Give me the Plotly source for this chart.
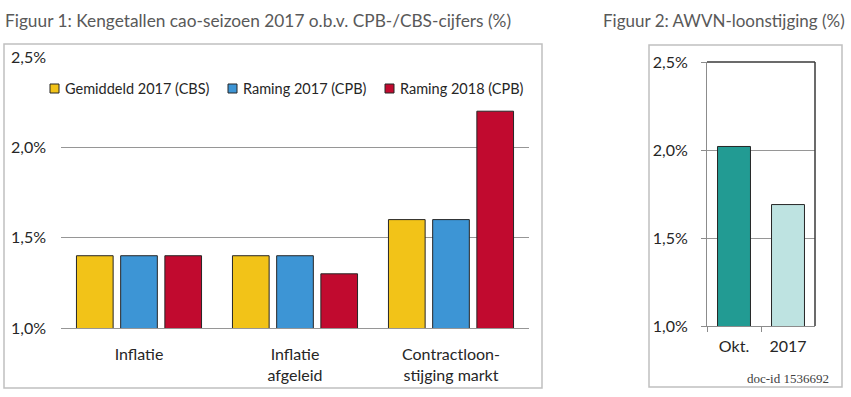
import plotly.graph_objects as go

# ---------------- data ----------------
categories = ["Inflatie", "Inflatie<br>afgeleid", "Contractloon-<br>stijging markt"]
gemiddeld_2017_cbs = [1.4, 1.4, 1.6]
raming_2017_cpb = [1.4, 1.4, 1.6]
raming_2018_cpb = [1.4, 1.3, 2.2]
series_names = ["Gemiddeld 2017 (CBS)", "Raming 2017 (CPB)", "Raming 2018 (CPB)"]
series_values = [gemiddeld_2017_cbs, raming_2017_cpb, raming_2018_cpb]
series_colors = ["#F2C318", "#3D95D5", "#C10A2F"]

awvn_categories = ["Okt.", "2017"]
awvn_values = [2.02, 1.69]
awvn_colors = ["#229B93", "#BEE3E1"]

tick_vals = [1.0, 1.5, 2.0, 2.5]
tick_text = ["1,0%", "1,5%", "2,0%", "2,5%"]

title_1 = "Figuur 1: Kengetallen cao-seizoen 2017 o.b.v. CPB-/CBS-cijfers (%)"
title_2 = "Figuur 2: AWVN-loonstijging (%)"
doc_id = "doc-id 1536692"

# ---------------- layout helpers ----------------
W, H = 851, 397
def px(x):
    return x / W
def py(y):
    return 1 - y / H

FONT = "Lato"
TEXT = "#262626"
GRID = "#969696"
BORDER = "#C0C0C0"
FS = 16

fig = go.Figure()

for name, vals, col in zip(series_names, series_values, series_colors):
    fig.add_trace(go.Bar(
        x=categories, y=vals, name=name, showlegend=False,
        marker=dict(color=col, line=dict(color="#262626", width=1)),
        xaxis="x", yaxis="y",
    ))

fig.add_trace(go.Bar(
    x=awvn_categories, y=awvn_values, width=0.61, showlegend=False,
    marker=dict(color=awvn_colors, line=dict(color="#262626", width=1)),
    xaxis="x2", yaxis="y2",
))

# legend drawn as swatches + labels (Excel-style compact legend)
legend_left = [50, 228, 385]
legend_y = 88.5
shapes = []
annotations = []
for lx, name, col in zip(legend_left, series_names, series_colors):
    shapes.append(dict(type="rect", xref="paper", yref="paper",
                       x0=px(lx), x1=px(lx + 9), y0=py(legend_y + 4.5), y1=py(legend_y - 4.5),
                       fillcolor=col, line=dict(color="#262626", width=1)))
    annotations.append(dict(text=name, xref="paper", yref="paper", x=px(lx + 13),
                            y=py(legend_y), xanchor="left", yanchor="middle",
                            showarrow=False, font=dict(size=14.5, color=TEXT)))

shapes += [
    dict(type="rect", xref="paper", yref="paper", x0=px(4), x1=px(542),
         y0=py(388), y1=py(44), line=dict(color=BORDER, width=1.5)),
    dict(type="rect", xref="paper", yref="paper", x0=px(649), x1=px(842),
         y0=py(387), y1=py(45), line=dict(color=BORDER, width=1.5)),
    dict(type="line", xref="x2 domain", yref="y2 domain", x0=0, x1=1, y0=1, y1=1,
         line=dict(color="#3A3A3A", width=1.5)),
    dict(type="line", xref="x2 domain", yref="y2 domain", x0=1, x1=1, y0=0, y1=1,
         line=dict(color="#3A3A3A", width=1.5)),
]

annotations += [
    dict(text=title_1, xref="paper", yref="paper", x=px(3), y=py(20),
         xanchor="left", yanchor="middle", showarrow=False,
         font=dict(size=17.3, color="#595959")),
    dict(text=title_2, xref="paper", yref="paper", x=px(601), y=py(20),
         xanchor="left", yanchor="middle", showarrow=False,
         font=dict(size=17, color="#595959")),
    dict(text=doc_id, xref="paper", yref="paper", x=px(831), y=py(378),
         xanchor="right", yanchor="middle", showarrow=False,
         font=dict(family="Liberation Serif", size=13, color="#404040")),
]

fig.update_layout(
    width=W, height=H,
    margin=dict(l=0, r=0, t=0, b=0, autoexpand=False),
    paper_bgcolor="white", plot_bgcolor="white",
    font=dict(family=FONT, size=FS, color=TEXT),
    barmode="group", bargap=0.15, bargroupgap=0.17,
    showlegend=False,
    xaxis=dict(domain=[px(61), px(529)], anchor="y", showline=True, linecolor=GRID,
               linewidth=1, ticks="", showgrid=False, ticklabelstandoff=12,
               automargin=False, tickfont=dict(size=FS, color=TEXT)),
    yaxis=dict(domain=[py(328), py(57)], anchor="x", range=[1.0, 2.5],
               tickvals=tick_vals, ticktext=tick_text, showgrid=True,
               gridcolor=GRID, gridwidth=1, showline=False, ticks="",
               zeroline=False, ticklabelstandoff=14, automargin=False,
               tickfont=dict(size=FS, color=TEXT)),
    xaxis2=dict(domain=[px(707), px(815)], anchor="y2", showline=True, linecolor="#8C8C8C",
                linewidth=1, ticks="outside", tickson="boundaries", ticklen=5,
                tickcolor="#8C8C8C", showgrid=False, ticklabelstandoff=6,
                automargin=False, tickfont=dict(size=FS, color=TEXT)),
    yaxis2=dict(domain=[py(326), py(62)], anchor="x2", range=[1.0, 2.5],
                tickvals=tick_vals, ticktext=tick_text, showgrid=True,
                gridcolor=GRID, gridwidth=1, showline=True, linecolor="#8C8C8C",
                ticks="outside", ticklen=5, tickcolor="#8C8C8C", zeroline=False,
                ticklabelstandoff=10, automargin=False,
                tickfont=dict(size=FS, color=TEXT)),
    shapes=shapes,
    annotations=annotations,
)

fig.write_html("out.html", config={"displayModeBar": False},
               post_script="document.body.style.margin='0px';")
